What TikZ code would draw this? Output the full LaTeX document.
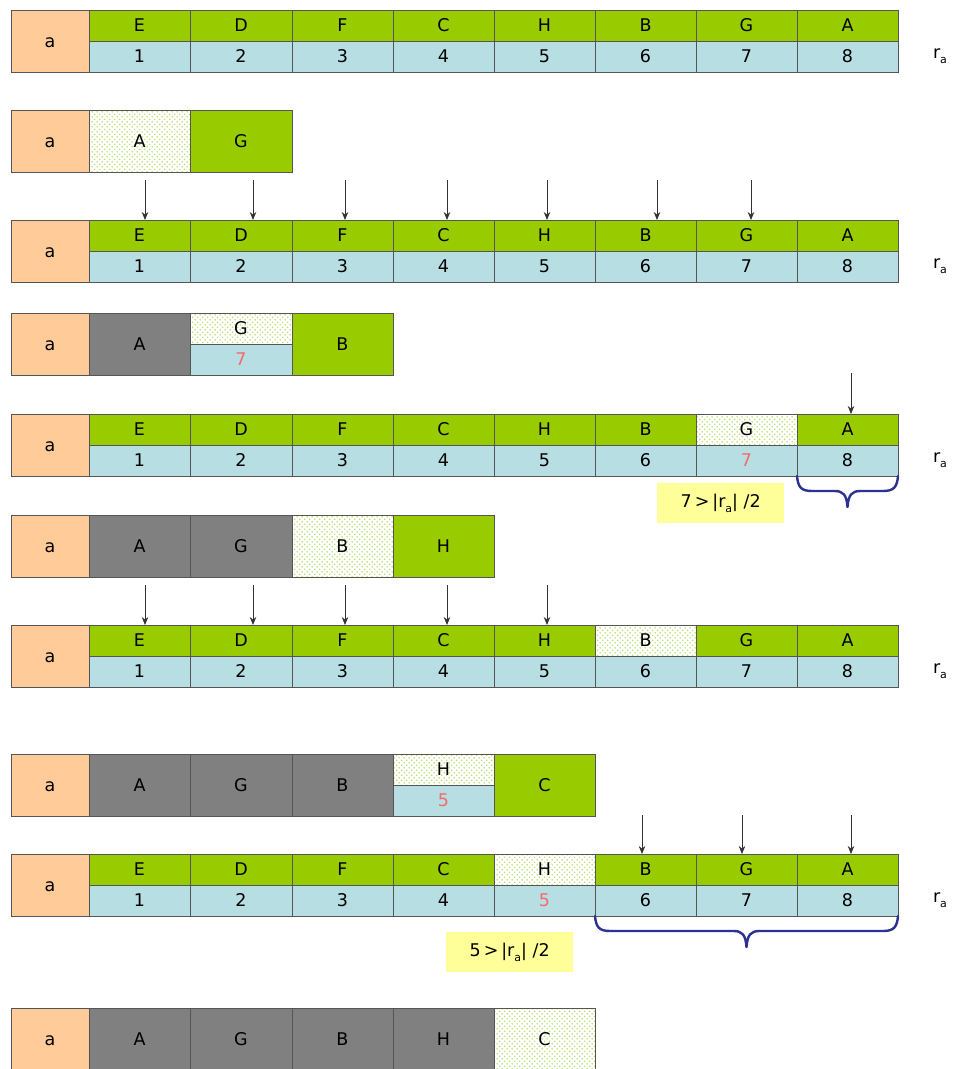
\documentclass[tikz,border=0pt]{standalone}
\usepackage{fontspec}
\setmainfont{DejaVu Sans}
\usetikzlibrary{patterns.meta,arrows.meta,calc}
\definecolor{cpeach}{HTML}{FFCC99}
\definecolor{cgreen}{HTML}{99CC00}
\definecolor{cblue}{HTML}{B7DEE2}
\definecolor{cgray}{HTML}{808080}
\definecolor{cyellow}{HTML}{FFFF99}
\definecolor{cred}{HTML}{F46B6B}
\definecolor{cbrace}{HTML}{2E3192}
\definecolor{cborder}{HTML}{555555}
\definecolor{carrow}{HTML}{333333}
\definecolor{cdot}{HTML}{B3DA62}
\pgfdeclarepattern{name=gdots, type=uncolored,
  bottom left={\pgfpoint{0pt}{0pt}}, top right={\pgfpoint{5.4pt}{5.4pt}},
  tile size={\pgfpoint{5.4pt}{5.4pt}},
  code={\pgfpathcircle{\pgfpoint{1.35pt}{1.35pt}}{0.85pt}
        \pgfpathcircle{\pgfpoint{4.05pt}{4.05pt}}{0.85pt}
        \pgfusepath{fill}}}
\newcommand\subA{\raisebox{-0.55ex}{\fontsize{11}{11}\selectfont a}}
\newcommand\cellbox[7]{\node[cellb,#6,minimum width=#4pt,minimum height=#5pt,anchor=north west] (#1) at (#2,#3) {#7};}
\newcommand\fullrow[4]{%
  \cellbox{#1a}{11}{#2}{78}{62}{peach}{a}
  \foreach \i/\xl/\xr/\L in {1/89/190/E,2/190/292/D,3/292/393/F,4/393/494/C,5/494/595/H,6/595/696/B,7/696/797/G,8/797/898/A}{%
    \pgfmathtruncatemacro\w{\xr-\xl}%
    \pgfmathtruncatemacro\yb{#2+31}%
    \ifnum\i=#3\relax
      \tikzset{curtop/.style={dotcell}}%
      \ifnum#4=1\relax\tikzset{curnum/.style={text=cred}}\else\tikzset{curnum/.style={}}\fi
    \else
      \tikzset{curtop/.style={grn},curnum/.style={}}%
    \fi
    \cellbox{#1t\i}{\xl}{#2}{\w}{31}{curtop}{\L}
    \cellbox{#1n\i}{\xl}{\yb}{\w}{31}{blu,curnum}{\i}
  }
  \node[ralab] (#1r) at (940,{#2+46}) {r\subA};
}
\newcommand\curlybrace[3]{%
  \coordinate (#1m) at ($(#2)!0.5!(#3)$);
  \draw[brace] (#2) .. controls ($(#2)+(1,11)$) and ($(#2)+(4,15)$) .. ($(#2)+(15,15)$)
    -- ($(#1m)+(-13,15)$) .. controls ($(#1m)+(-4,15)$) and ($(#1m)+(-1,19)$) .. ($(#1m)+(0,31)$)
    .. controls ($(#1m)+(1,19)$) and ($(#1m)+(4,15)$) .. ($(#1m)+(13,15)$)
    -- ($(#3)+(-15,15)$) .. controls ($(#3)+(-4,15)$) and ($(#3)+(-1,11)$) .. (#3);
}
\tikzset{
  cellb/.style={draw=cborder, line width=0.9pt, inner sep=0pt, outer sep=0pt,
    font=\fontsize{17.5}{20}\selectfont, text=black, text height=12.8pt, text depth=0pt},
  peach/.style={fill=cpeach},
  grn/.style={fill=cgreen},
  blu/.style={fill=cblue},
  gry/.style={fill=cgray},
  dotcell/.style={pattern={gdots}, pattern color=cdot},
  ralab/.style={font=\fontsize{17.5}{20}\selectfont, inner sep=0pt},
  arr/.style={-{Stealth[length=8pt,width=6.5pt]}, line width=0.9pt, draw=carrow, fill=carrow},
  brace/.style={draw=cbrace, line width=2.4pt, line cap=round, line join=round},
  note/.style={fill=cyellow, inner sep=0pt, minimum width=127pt, minimum height=40pt,
    anchor=north west, font=\fontsize{17.5}{20}\selectfont},
}
\begin{document}
\begin{tikzpicture}[x=1pt,y=-1pt]
\clip (0,0) rectangle (953,1069);
\fill[white] (0,0) rectangle (953,1069);

% row 1
\fullrow{ra}{10}{0}{0}

% row 2
\cellbox{sb1}{11}{110}{78}{62}{peach}{a}
\cellbox{sb2}{89}{110}{101}{62}{dotcell}{A}
\cellbox{sb3}{190}{110}{102}{62}{grn}{G}

% row 3
\fullrow{rc}{220}{0}{0}
\foreach \k/\x in {1/145,2/253,3/345,4/447,5/547,6/657,7/751}{
  \coordinate (pa\k) at (\x,180);
  \draw[arr] (pa\k) -- (pa\k |- rct\k.north);
}

% row 4
\cellbox{sd1}{11}{313}{78}{62}{peach}{a}
\cellbox{sd2}{89}{313}{101}{62}{gry}{A}
\cellbox{sd3}{190}{313}{102}{31}{dotcell}{G}
\cellbox{sd4}{190}{344}{102}{31}{blu,text=cred}{7}
\cellbox{sd5}{292}{313}{101}{62}{grn}{B}

% row 5
\fullrow{re}{414}{7}{1}
\coordinate (pb8) at (851,373);
\draw[arr] (pb8) -- (pb8 |- ret8.north);
\curlybrace{bra}{ren8.south west}{ren8.south east}
\node[note] (na) at (657,483) {7\,>\,|r\subA|\ /2};

% row 6
\cellbox{sf1}{11}{515}{78}{62}{peach}{a}
\cellbox{sf2}{89}{515}{101}{62}{gry}{A}
\cellbox{sf3}{190}{515}{102}{62}{gry}{G}
\cellbox{sf4}{292}{515}{101}{62}{dotcell}{B}
\cellbox{sf5}{393}{515}{101}{62}{grn}{H}

% row 7
\fullrow{rg}{625}{6}{0}
\foreach \k/\x in {1/145,2/253,3/345,4/447,5/547}{
  \coordinate (pc\k) at (\x,585);
  \draw[arr] (pc\k) -- (pc\k |- rgt\k.north);
}

% row 8
\cellbox{sh1}{11}{754}{78}{62}{peach}{a}
\cellbox{sh2}{89}{754}{101}{62}{gry}{A}
\cellbox{sh3}{190}{754}{102}{62}{gry}{G}
\cellbox{sh4}{292}{754}{101}{62}{gry}{B}
\cellbox{sh5}{393}{754}{101}{31}{dotcell}{H}
\cellbox{sh6}{393}{785}{101}{31}{blu,text=cred}{5}
\cellbox{sh7}{494}{754}{101}{62}{grn}{C}

% row 9
\fullrow{ri}{854}{5}{1}
\foreach \k/\x in {6/642,7/742,8/851}{
  \coordinate (pd\k) at (\x,815);
  \draw[arr] (pd\k) -- (pd\k |- rit\k.north);
}
\curlybrace{brb}{rin6.south west}{rin8.south east}
\node[note] (nb) at (446,932) {5\,>\,|r\subA|\ /2};

% row 10
\cellbox{sj1}{11}{1008}{78}{62}{peach}{a}
\cellbox{sj2}{89}{1008}{101}{62}{gry}{A}
\cellbox{sj3}{190}{1008}{102}{62}{gry}{G}
\cellbox{sj4}{292}{1008}{101}{62}{gry}{B}
\cellbox{sj5}{393}{1008}{101}{62}{gry}{H}
\cellbox{sj6}{494}{1008}{101}{62}{dotcell}{C}
\end{tikzpicture}
\end{document}
